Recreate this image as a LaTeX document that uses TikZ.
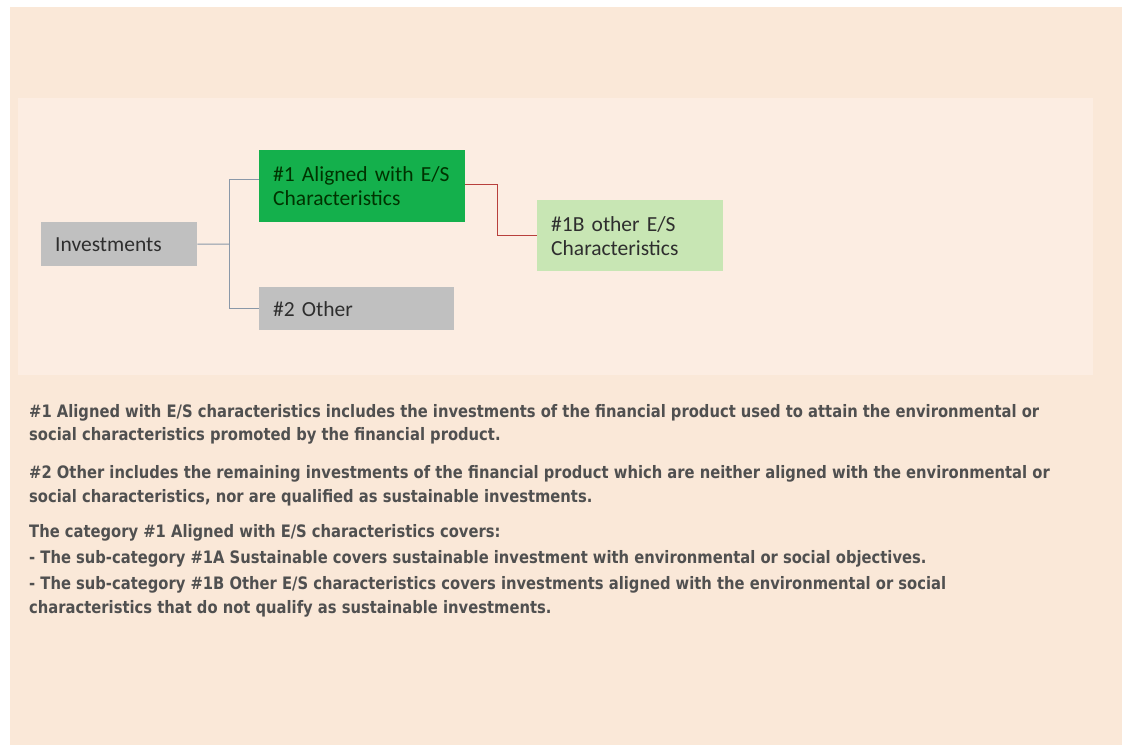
\documentclass[tikz,border=0pt]{standalone}
\usepackage{fontspec}
\setmainfont{Carlito}
\newfontfamily\esgbody[FakeStretch=0.86]{DejaVu Sans Bold}
\definecolor{pagebg}{HTML}{FAE8D8}
\definecolor{panelbg}{HTML}{FCEDE2}
\definecolor{boxgray}{HTML}{C0C0C0}
\definecolor{boxgreen}{HTML}{14B04C}
\definecolor{boxlight}{HTML}{C8E6B4}
\definecolor{linegray}{HTML}{8A98A8}
\definecolor{linered}{HTML}{B8403C}
\definecolor{txtgray}{HTML}{505050}
\definecolor{boxtxt}{HTML}{2E2E2E}
\tikzset{
  catbox/.style={anchor=north west, inner ysep=0pt, inner xsep=14pt, align=left,
    font=\fontsize{21.5}{24}\selectfont, text=boxtxt},
  conn/.style={draw=linegray, line width=1pt},
  redconn/.style={draw=linered, line width=1pt},
  bodyline/.style={anchor=mid west, inner sep=0pt, text=txtgray,
    font=\esgbody\fontsize{17.15}{20}\selectfont}
}
\begin{document}
\begin{tikzpicture}[x=1pt,y=-1pt]
\useasboundingbox (0,0) rectangle (1126,745);
\fill[white] (0,0) rectangle (1126,745);
\fill[pagebg] (10,7) rectangle (1122,745);
\fill[panelbg] (18,98) rectangle (1093,375);

\node[catbox, fill=boxgray, minimum width=156pt, minimum height=44pt, text width=128pt] (inv) at (41,222) {Investments};
\node[catbox, fill=boxgreen, minimum width=206pt, minimum height=72pt, text width=178pt, text=black!80!green] (a1) at (259,150) {\#1 Aligned with E/S\\Characteristics};
\node[catbox, fill=boxgray, minimum width=195pt, minimum height=43pt, text width=167pt] (o2) at (259,287) {\#2 Other};
\node[catbox, fill=boxlight, minimum width=186pt, minimum height=71pt, text width=158pt] (b1) at (537,200) {\#1B other E/S\\Characteristics};

\coordinate (split) at (229,244);
\draw[conn] (inv.east) -- (split);
\draw[conn] (split) |- ([yshift=7pt]a1.west);
\draw[conn] (split) |- (o2.west);
\draw[redconn] ([yshift=2pt]a1.east) -- ++(32,0) coordinate (rbend) |- (b1.west);

\node[bodyline] (t1) at (29,415) {\#1 Aligned with E/S characteristics includes the investments of the financial product used to attain the environmental or};
\node[bodyline] (t2) at (29,438) {social characteristics promoted by the financial product.};
\node[bodyline] (t3) at (29,476) {\#2 Other includes the remaining investments of the financial product which are neither aligned with the environmental or};
\node[bodyline] (t4) at (29,500) {social characteristics, nor are qualified as sustainable investments.};
\node[bodyline] (t5) at (29,535) {The category \#1 Aligned with E/S characteristics covers:};
\node[bodyline] (t6) at (29,561) {- The sub-category \#1A Sustainable covers sustainable investment with environmental or social objectives.};
\node[bodyline] (t7) at (29,587) {- The sub-category \#1B Other E/S characteristics covers investments aligned with the environmental or social};
\node[bodyline] (t8) at (29,611) {characteristics that do not qualify as sustainable investments.};
\end{tikzpicture}
\end{document}
